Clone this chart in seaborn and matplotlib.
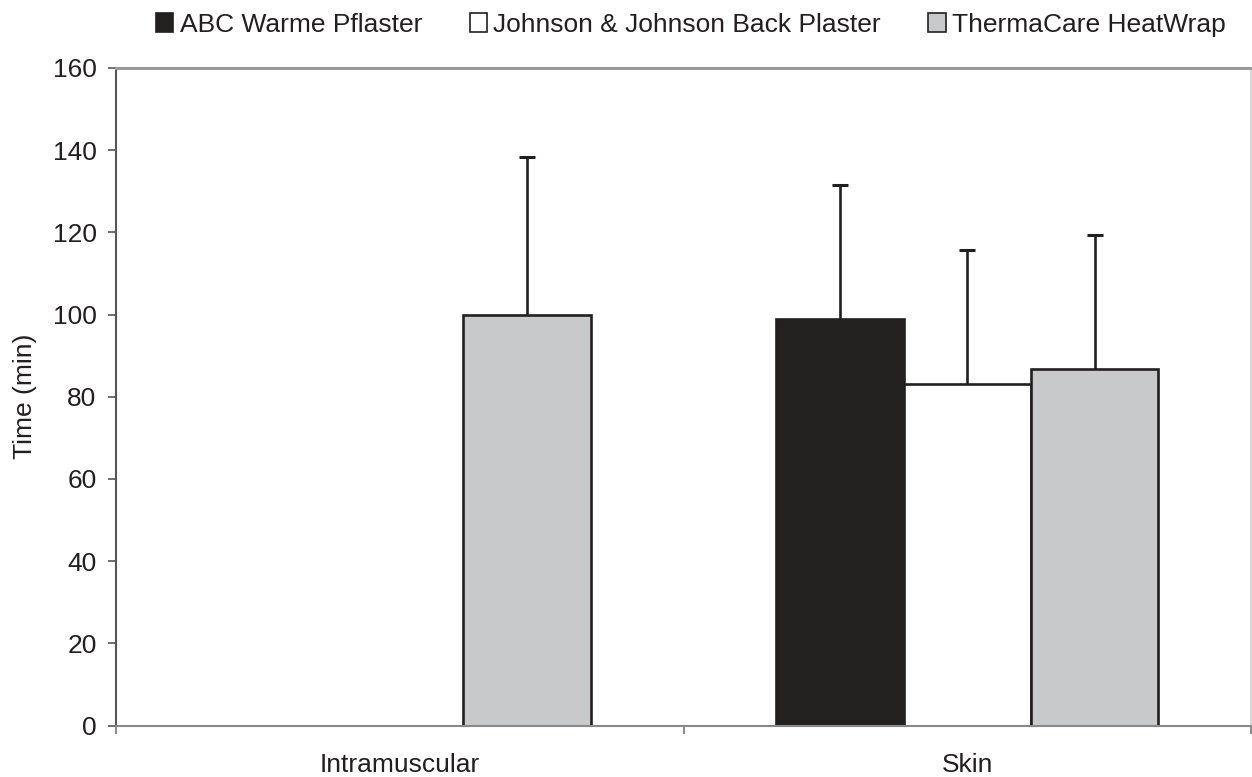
import matplotlib
matplotlib.use("Agg")
import matplotlib.pyplot as plt
import seaborn as sns
import pandas as pd
import numpy as np
from matplotlib.ticker import FixedLocator

# ---- data ----
categories = ["Intramuscular", "Skin"]
products = ["ABC Warme Pflaster", "Johnson & Johnson Back Plaster", "ThermaCare HeatWrap"]
abc_mean = [0, 99.0]
abc_sd = [0, 32.6]
jj_mean = [0, 83.0]
jj_sd = [0, 32.7]
tc_mean = [100.0, 86.7]
tc_sd = [38.4, 32.7]
yticks = [0, 20, 40, 60, 80, 100, 120, 140, 160]

means = [abc_mean, jj_mean, tc_mean]
sds = [abc_sd, jj_sd, tc_sd]
rows = []
for p, m, s in zip(products, means, sds):
    for c, mv, sv in zip(categories, m, s):
        rows.append({"Site": c, "Product": p, "Time": mv, "SD": sv})
df = pd.DataFrame(rows)

sns.set_theme(style="white")
plt.rcParams['font.family'] = ['Liberation Sans', 'DejaVu Sans']

EDGE = "#231f20"
FS = 19
palette = {products[0]: "#231f20", products[1]: "#ffffff", products[2]: "#c8c9cb"}

fig = plt.figure(figsize=(12.52, 7.77), dpi=100)
ax = fig.add_axes([116 / 1252, 1 - 725.5 / 777, (1251 - 116) / 1252, (725.5 - 68) / 777])

sns.barplot(data=df, x="Site", y="Time", hue="Product", order=categories,
            hue_order=products, palette=palette, width=0.674, gap=0,
            errorbar=None, edgecolor=EDGE, linewidth=1.9, ax=ax, legend=True)

# error bars (upper only), positioned from seaborn's bars
for bars, p in zip(ax.containers, products):
    sub = df[df["Product"] == p].set_index("Site").loc[categories]
    for rect, (_, r) in zip(bars, sub.iterrows()):
        if r["SD"] > 0:
            x = rect.get_x() + rect.get_width() / 2
            eb = ax.errorbar(x, rect.get_height(), yerr=[[0], [r["SD"]]], fmt="none",
                             ecolor=EDGE, elinewidth=1.9, capsize=6, capthick=2.2, zorder=1)
            caps = eb[1]
            if len(caps) > 1:
                caps[0].set_visible(False)

ax.set_ylim(0, 160)
ax.set_xlim(-0.5, 1.5)
ax.set_yticks(yticks)
ax.set_ylabel("Time (min)", fontsize=FS, color="#231f20", labelpad=11)
ax.set_xlabel("")
ax.tick_params(axis="y", which="major", left=True, length=6, width=1.2, color="#555555",
               labelsize=FS, labelcolor="#231f20", pad=8)
ax.tick_params(axis="x", which="major", bottom=False, length=0, labelsize=FS,
               labelcolor="#231f20", pad=20)
ax.xaxis.set_minor_locator(FixedLocator([-0.5, 0.5, 1.5]))
ax.tick_params(axis="x", which="minor", bottom=True, length=6, width=1.2, color="#777777")

for side in ["left", "bottom", "top", "right"]:
    ax.spines[side].set_visible(True)
ax.spines["left"].set_color("#555555")
ax.spines["left"].set_linewidth(1.5)
ax.spines["bottom"].set_color("#888888")
ax.spines["bottom"].set_linewidth(1.5)
ax.spines["top"].set_color("#9a9a9a")
ax.spines["top"].set_linewidth(2.2)
ax.spines["right"].set_color("#d0d0d0")
ax.spines["right"].set_linewidth(1.2)

handles, labels = ax.get_legend_handles_labels()
ax.get_legend().remove()
for h in handles:
    h.set_edgecolor(EDGE)
    h.set_linewidth(1.2)
fig.legend(handles, labels, loc="center", bbox_to_anchor=(691 / 1252, 1 - 25 / 777),
           ncol=3, frameon=False, fontsize=FS, handlelength=0.65, handleheight=0.75,
           handletextpad=0.25, columnspacing=1.8, labelcolor="#231f20")

fig.savefig("out.png", dpi=100)
